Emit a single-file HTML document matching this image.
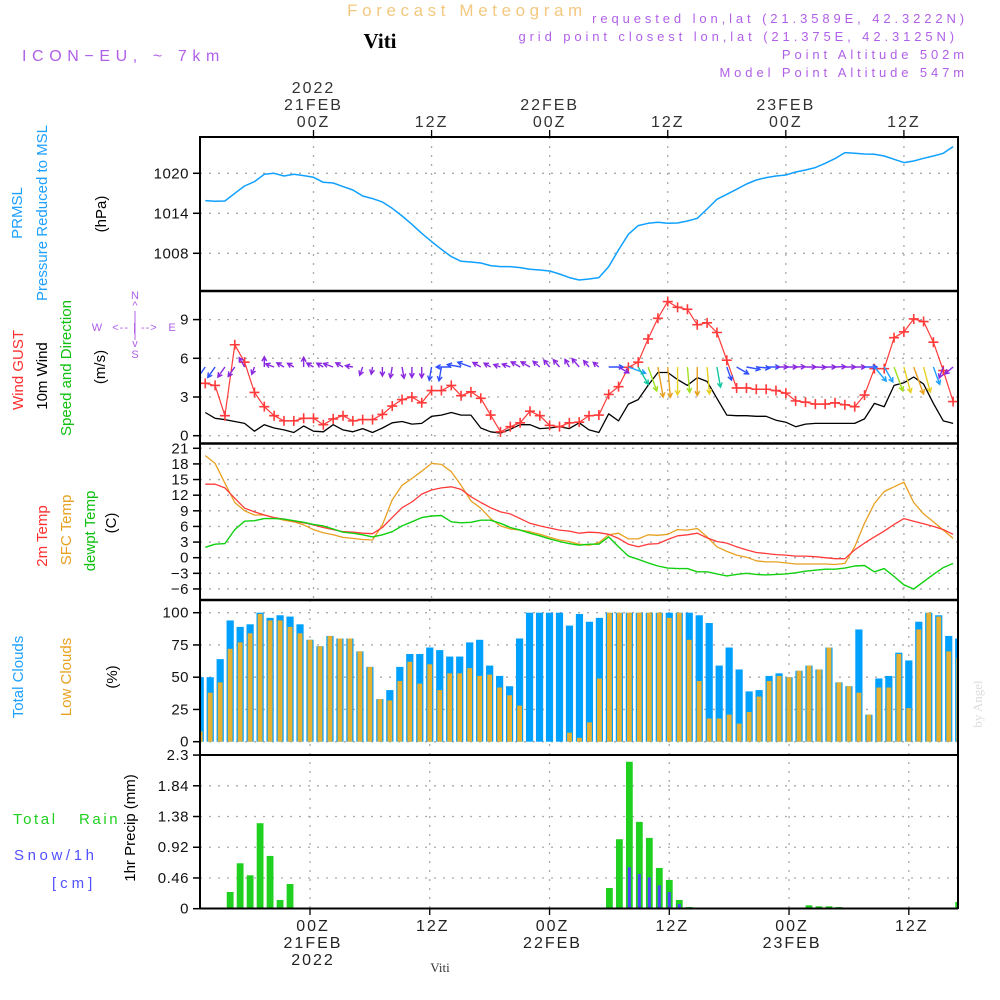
<!DOCTYPE html>
<html><head><meta charset="utf-8"><title>Forecast Meteogram - Viti</title>
<style>
html,body{margin:0;padding:0;background:#fff;}
svg{display:block;font-family:"Liberation Sans",sans-serif;}
</style></head>
<body>
<svg id="chart" width="1000" height="1000" viewBox="0 0 1000 1000" xmlns="http://www.w3.org/2000/svg">
<defs><clipPath id="plotclip"><rect x="201" y="130" width="757" height="790"/></clipPath></defs>
<g id="header">
<text x="467" y="16" text-anchor="middle" font-size="17" fill="#f3c880" letter-spacing="4.6">Forecast Meteogram</text>
<text x="380" y="48" text-anchor="middle" font-size="21" font-weight="bold" font-family="Liberation Serif,serif" fill="#000">Viti</text>
<text x="22" y="61" font-size="16" fill="#b060e8" letter-spacing="5.6">ICON−EU, ~ 7km</text>
<g font-size="13" fill="#b060e8" text-anchor="end" letter-spacing="3.9">
<text x="968" y="23">requested lon,lat (21.3589E, 42.3222N)</text>
<text x="958" y="41">grid point closest lon,lat (21.375E, 42.3125N)</text>
<text x="968" y="59">Point Altitude 502m</text>
<text x="968" y="77">Model Point Altitude 547m</text>
</g>
</g>
<g id="grid"></g>
<g id="marks" clip-path="url(#plotclip)"></g>
<g id="frames"></g>
<g id="axes"></g>
<g id="labels">
<g font-size="15">
<text transform="translate(22,213) rotate(-90)" text-anchor="middle" fill="#1ea0ff">PRMSL</text>
<text transform="translate(47,213) rotate(-90)" text-anchor="middle" fill="#1ea0ff">Pressure Reduced to MSL</text>
<text transform="translate(106,214) rotate(-90)" text-anchor="middle" fill="#000">(hPa)</text>
<text transform="translate(23,370) rotate(-90)" text-anchor="middle" fill="#ff3030">Wind GUST</text>
<text transform="translate(47,376) rotate(-90)" text-anchor="middle" fill="#000">10m Wind</text>
<text transform="translate(71,368) rotate(-90)" text-anchor="middle" fill="#10c010">Speed and Direction</text>
<text transform="translate(105,367) rotate(-90)" text-anchor="middle" fill="#000">(m/s)</text>
<text transform="translate(47,536) rotate(-90)" text-anchor="middle" fill="#ff3030">2m Temp</text>
<text transform="translate(71,530) rotate(-90)" text-anchor="middle" fill="#e8a020">SFC Temp</text>
<text transform="translate(95,531) rotate(-90)" text-anchor="middle" fill="#10c010">dewpt Temp</text>
<text transform="translate(116,523) rotate(-90)" text-anchor="middle" fill="#000">(C)</text>
<text transform="translate(23,677) rotate(-90)" text-anchor="middle" fill="#1ea0ff">Total Clouds</text>
<text transform="translate(71,677) rotate(-90)" text-anchor="middle" fill="#e8a020">Low Clouds</text>
<text transform="translate(117,677) rotate(-90)" text-anchor="middle" fill="#000">(%)</text>
<text transform="translate(135,828) rotate(-90)" text-anchor="middle" fill="#000">1hr Precip (mm)</text>
</g>
<g font-size="15" letter-spacing="2.6">
<text x="13" y="824" fill="#20d020">Total</text>
<text x="79" y="824" fill="#20d020">Rain</text>
<text x="14" y="860" fill="#5050ff" letter-spacing="3.6">Snow/1h</text>
<text x="52" y="888" fill="#5050ff" letter-spacing="4">[cm]</text>
</g>
<g font-size="11" fill="#b060e8">
<text x="135" y="299" text-anchor="middle">N</text>
<text x="135" y="309" text-anchor="middle">^</text>
<text x="97" y="331" text-anchor="middle">W</text>
<text x="135" y="331" text-anchor="middle" letter-spacing="1">&lt;-- | --&gt;</text>
<text x="172" y="331" text-anchor="middle">E</text>
<text x="135" y="347" text-anchor="middle">v</text>
<text x="135" y="358" text-anchor="middle">S</text>
<line x1="135" y1="311" x2="135" y2="340" stroke="#b060e8" stroke-width="1"/>
</g>
<text transform="translate(982,704) rotate(-90)" text-anchor="middle" font-size="13" font-family="Liberation Serif,serif" fill="#ddd">by Angel</text>
<text x="440" y="972" text-anchor="middle" font-size="13" font-family="Liberation Serif,serif" fill="#333">Viti</text>
</g>
</svg>
<script>
// hours relative to 00Z 21FEB, hourly from -11 to 65
const hours = [];
for (let h = -11; h <= 65; h++) hours.push(h);
const pressure = [1015.9,1015.8,1015.85,1017.0,1018.1,1018.75,1019.85,1020.0,1019.6,1019.85,1019.65,1019.4,1018.65,1018.55,1018.0,1017.5,1016.6,1016.2,1015.7,1014.75,1013.6,1012.35,1011.0,1009.75,1008.6,1007.5,1006.8,1006.7,1006.55,1006.15,1006.0,1006.0,1005.85,1005.6,1005.5,1005.35,1004.9,1004.35,1004.0,1004.15,1004.35,1006.0,1008.5,1010.85,1012.15,1012.5,1012.65,1012.5,1012.55,1012.85,1013.25,1014.65,1016.1,1016.85,1017.6,1018.4,1019.0,1019.35,1019.6,1019.75,1020.2,1020.5,1020.85,1021.5,1022.2,1023.1,1023.0,1022.9,1022.85,1022.6,1022.1,1021.6,1021.85,1022.25,1022.6,1023.0,1024.0];
const windGust = [4.06,3.9,1.55,7.05,5.7,3.35,2.25,1.55,1.15,1.15,1.35,1.35,0.85,1.3,1.55,1.15,1.25,1.25,1.65,2.3,2.8,3.0,2.55,3.5,3.5,3.9,3.1,3.4,2.9,1.6,0.3,0.7,1.0,1.9,1.55,0.8,0.7,1.0,1.05,1.55,1.6,3.2,3.8,5.3,5.7,7.5,9.1,10.4,9.95,9.8,8.6,8.75,8.0,5.85,3.7,3.7,3.6,3.6,3.5,3.3,2.7,2.6,2.45,2.45,2.55,2.4,2.25,3.15,5.2,5.2,7.6,8.05,9.05,8.85,7.25,5.05,2.65];
const wind10m = [1.8,1.35,1.25,1.1,0.95,0.35,0.85,0.6,0.45,0.25,0.75,0.35,0.3,0.85,0.45,0.3,0.55,0.25,0.6,1.0,1.1,0.9,0.95,1.5,1.6,1.8,1.6,1.6,0.6,0.3,0.2,0.5,0.85,0.85,0.55,0.6,0.7,0.55,1.0,0.45,0.25,1.7,1.15,2.45,2.8,3.9,4.9,4.9,4.35,3.9,4.5,4.2,2.9,1.6,1.55,1.55,1.5,1.5,1.2,1.05,0.7,0.9,0.95,0.95,0.95,0.95,0.95,1.3,2.5,2.25,3.9,4.1,4.55,4.0,2.5,1.15,0.95];
const windDir = [215,215,215,215,330,200,0,290,300,300,0,300,300,290,300,280,200,190,180,190,170,180,180,190,190,270,280,290,300,300,290,290,300,300,310,320,320,330,320,320,310,90,120,110,150,160,170,175,180,175,180,175,170,160,120,100,95,90,90,90,88,90,92,90,88,90,90,90,140,150,160,165,160,165,160,200,230];
const temp2m = [14.1,14.1,13.4,11.4,9.5,8.8,8.2,7.7,7.4,7.0,6.7,6.3,5.8,5.4,5.0,4.9,4.7,4.6,5.8,7.7,9.6,10.7,12.2,13.0,13.4,13.6,13.1,11.7,10.6,9.6,8.8,8.4,7.5,6.6,6.1,5.7,5.3,5.1,4.7,4.9,4.8,4.5,3.7,2.6,2.1,2.6,2.7,3.5,4.2,4.4,4.7,3.8,3.1,2.8,2.1,1.5,1.0,0.8,0.6,0.5,0.3,0.3,0.2,0.0,-0.2,-0.2,1.5,2.8,4.0,5.1,6.4,7.5,7.0,6.5,6.0,5.4,4.5];
const tempSfc = [19.6,18.1,14.3,10.6,9.0,8.2,8.2,7.7,7.2,6.9,6.3,5.4,4.8,4.4,3.9,3.7,3.5,3.4,6.3,11.1,13.9,15.2,16.6,18.1,17.9,16.5,13.9,10.9,9.5,7.5,6.1,5.5,5.3,5.0,4.5,3.9,3.4,3.1,2.6,2.4,2.9,4.4,4.7,3.6,3.6,4.4,4.3,4.5,5.4,5.3,5.6,4.0,2.1,1.2,0.5,0.1,-0.6,-0.8,-0.8,-1.0,-1.2,-1.2,-1.2,-1.2,-1.3,-1.1,2.1,6.6,10.4,12.7,13.6,14.5,10.6,8.4,6.9,5.3,3.7];
const dewpoint = [2.0,2.6,2.7,5.4,7.0,7.1,7.5,7.5,7.4,7.1,6.8,6.4,6.1,5.5,4.9,4.7,4.4,4.0,4.4,5.0,6.1,6.9,7.7,8.0,8.1,6.9,6.7,6.8,7.2,7.2,6.6,5.8,5.3,4.7,4.2,3.6,3.1,2.7,2.4,2.6,2.6,4.0,2.1,0.3,-0.3,-1.0,-1.6,-2.0,-2.1,-2.1,-2.7,-2.7,-3.1,-3.5,-3.2,-3.0,-3.2,-3.3,-3.2,-3.1,-2.9,-2.6,-2.4,-2.2,-2.2,-2.0,-1.6,-1.5,-2.7,-2.1,-3.6,-5.2,-6.0,-4.6,-3.2,-1.9,-1.1];
const totalClouds = [50,50,64,94,89,91,100,96,98,97,91,79,74,82,80,80,70,58,33,40,58,68,68,73,71,66,66,77,79,59,51,43,80,100,100,100,100,90,99,93,96,100,100,100,100,100,100,100,100,100,98,92,59,73,56,39,40,51,53,50,55,59,56,73,46,43,87,21,49,51,69,63,93,100,98,82,80];
const lowClouds = [8,38,46,72,77,84,99,94,94,89,84,79,74,82,80,80,70,58,33,32,47,62,45,60,40,53,53,57,51,52,42,36,28,0,0,0,0,7,3,15,49,100,100,100,100,100,100,96,100,79,47,18,18,21,14,23,35,47,51,50,55,59,56,73,46,43,38,21,42,42,68,26,87,100,97,70,65];
const rain = [0,0,0,0.25,0.68,0.5,1.28,0.79,0.13,0.37,0.01,0,0,0,0,0,0,0,0,0,0,0,0,0,0,0,0,0,0.01,0.01,0,0,0,0,0,0,0,0,0,0,0,0.31,1.04,2.2,1.3,1.06,0.61,0.43,0.13,0.025,0,0,0,0,0,0,0,0,0,0,0,0.05,0.035,0.035,0.025,0,0,0,0,0,0,0,0,0,0,0,0.1];
const snow = [0,0,0,0,0,0,0,0,0,0,0,0,0,0,0,0,0,0,0,0,0,0,0,0,0,0,0,0,0,0,0,0,0,0,0,0,0,0,0,0,0,0,0,0.62,0.52,0.47,0.35,0.25,0.07,0.01,0,0,0,0,0,0,0,0,0,0,0,0,0,0,0,0,0,0,0,0,0,0,0,0,0,0,0];
const pressTicks = [1020,1014,1008];
const windTicks = [9,6,3,0];
const tempTicks = [21,18,15,12,9,6,3,0,-3,-6];
const cloudTicks = [100,75,50,25,0];
const precipTicks = ['2.3','1.84','1.38','0.92','0.46','0'];
const gridHours = [0,12,24,36,48,60];
const topLabels = [['2022','21FEB','00Z'],['','','12Z'],['','22FEB','00Z'],['','','12Z'],['','23FEB','00Z'],['','','12Z']];
const bottomLabels = [['00Z','21FEB','2022'],['12Z','',''],['00Z','22FEB',''],['12Z','',''],['00Z','23FEB',''],['12Z','','']];

const NS = 'http://www.w3.org/2000/svg';
const L = 200, R = 958;
const xa = h => 313.5 + h * 9.84;   // top three panels
const xb = h => 310 + h * 9.98;     // clouds and precip panels
const yP = p => 173.3 - (p - 1020) * 6.667;
const yW = v => 435.7 - v * 12.9;
const yT = t => 557.7 - t * 5.21;
const yC = c => 741.7 - c * 1.29;
const yR = r => 908.7 - r * 66.8;

function el(tag, attrs, parent) {
  const e = document.createElementNS(NS, tag);
  for (const k in attrs) e.setAttribute(k, attrs[k]);
  parent.appendChild(e);
  return e;
}
const grid = document.getElementById('grid');
const marks = document.getElementById('marks');
const frames = document.getElementById('frames');
const axes = document.getElementById('axes');
const dot = {stroke:'#aaa','stroke-width':1.3,'stroke-dasharray':'2,7',fill:'none'};

function hgrid(vals, fy) {
  vals.forEach(v => {
    const y = fy(+v);
    const g = el('line', Object.assign({x1:L, x2:R, y1:y, y2:y}, dot), grid);
    
    
    const t = el('line', {x1:L-7, x2:L, y1:y, y2:y, stroke:'#000','stroke-width':1.5}, axes);
    
    
    const tx = el('text', {x:L-11, y:y+5, 'text-anchor':'end','font-size':15, fill:'#111','letter-spacing':0.5}, axes);
    tx.textContent = String(v).replace('-', '\u2212');
    
    
  });
}
function vgrid(fx, top, bot) {
  gridHours.forEach(h => {
    const g = el('line', Object.assign({x1:fx(h), x2:fx(h), y1:top, y2:bot}, dot), grid);
    
    
  });
}
vgrid(xa, 137, 600); vgrid(xb, 600, 908);
hgrid(pressTicks, yP); hgrid(windTicks, yW);
hgrid(tempTicks, yT); hgrid(cloudTicks, yC); hgrid(precipTicks, yR);

function line(vals, fx, fy, color, name, w) {
  const pts = vals.map((v, i) => fx(hours[i]).toFixed(1) + ',' + fy(v).toFixed(1)).join(' ');
  const p = el('polyline', {points:pts, fill:'none', stroke:color, 'stroke-width':w || 1.4, 'stroke-linejoin':'round'}, marks);
  
  
}
totalClouds.forEach((c, i) => {
  const x = xb(hours[i]);
  const b = el('rect', {x:x-3.6, y:yC(c), width:7.2, height:yC(0)-yC(c), fill:'#00a0ff'}, marks);
  
  
});
lowClouds.forEach((c, i) => {
  const x = xb(hours[i]);
  const b = el('rect', {x:x-2.4, y:yC(c), width:4.8, height:yC(0)-yC(c), fill:'#e8b030'}, marks);
  
  
});
rain.forEach((r, i) => {
  if (r <= 0) return;
  const x = xb(hours[i]);
  const b = el('rect', {x:x-3.4, y:yR(r), width:6.8, height:yR(0)-yR(r), fill:'#20d020'}, marks);
  
  
});
snow.forEach((s, i) => {
  if (s <= 0) return;
  const x = xb(hours[i]);
  const b = el('rect', {x:x-1.5, y:yR(s), width:3, height:yR(0)-yR(s), fill:'#4848ff'}, marks);
  
  
});
line(pressure, xa, yP, '#10a0ff', 'pressure-line', 1.5);
line(wind10m, xa, yW, '#000', 'wind-10m-line', 1.3);
line(windGust, xa, yW, '#ff3a3a', 'wind-gust-line', 1.2);
windGust.forEach((v, i) => {
  const x = xa(hours[i]), y = yW(v);
  const p = el('path', {d:`M${x-5},${y}H${x+5}M${x},${y-5}V${y+5}`, stroke:'#ff3a3a', 'stroke-width':1.6}, marks);
  
  
});
function windColor(s) {
  if (s < 1.3) return '#8a28e0';
  if (s < 2.0) return '#3050ff';
  if (s < 2.6) return '#1ea0ff';
  if (s < 3.2) return '#10c8a0';
  if (s < 3.95) return '#a0e020';
  if (s < 4.4) return '#e8d020';
  return '#e8a020';
}
wind10m.forEach((s, i) => {
  const x0 = xa(hours[i]), y0 = 367;
  const len = Math.min(31, 6 + 5 * s);
  const a = windDir[i] * Math.PI / 180;
  const dx = Math.sin(a), dy = -Math.cos(a);
  const x1 = x0 + dx * len, y1 = y0 + dy * len;
  const hl = 5, ang = 0.5;
  const bx = -dx, by = -dy;
  const h1x = x1 + hl * (bx * Math.cos(ang) - by * Math.sin(ang));
  const h1y = y1 + hl * (bx * Math.sin(ang) + by * Math.cos(ang));
  const h2x = x1 + hl * (bx * Math.cos(-ang) - by * Math.sin(-ang));
  const h2y = y1 + hl * (bx * Math.sin(-ang) + by * Math.cos(-ang));
  const p = el('path', {d:`M${x0},${y0}L${x1},${y1}M${h1x},${h1y}L${x1},${y1}L${h2x},${h2y}`, stroke:windColor(s), 'stroke-width':1.4, fill:'none'}, marks);
  
  
});
line(tempSfc, xa, yT, '#e8a020', 'sfc-temp-line', 1.3);
line(temp2m, xa, yT, '#ff3a3a', 'temp-2m-line', 1.3);
line(dewpoint, xa, yT, '#10d010', 'dewpoint-line', 1.4);

function fl(x1, y1, x2, y2, w, name) {
  const f = el('line', {x1, y1, x2, y2, stroke:'#000', 'stroke-width':w}, frames);
  
  
}
fl(L, 136, L, 909, 2, 'left-frame');
fl(R, 136, R, 909, 2, 'right-frame');
fl(L, 137, R, 137, 2, 'top-frame');
fl(L, 291, R, 291, 2.5, 'separator-pressure-wind');
fl(L, 443.5, R, 443.5, 2.5, 'separator-wind-temp');
fl(L, 600, R, 600, 2.5, 'separator-temp-clouds');
fl(L, 755, R, 755, 2, 'separator-clouds-precip');
fl(L, 908.5, R, 908.5, 2, 'bottom-frame');
gridHours.forEach((h, i) => {
  const x = xa(h);
  const t = el('line', {x1:x, x2:x, y1:130, y2:137, stroke:'#000','stroke-width':1.3}, axes);
  
  
  topLabels[i].forEach((s, j) => {
    if (!s) return;
    const tx = el('text', {x:x, y:93 + j*17, 'text-anchor':'middle', 'font-size':16, fill:'#333', 'letter-spacing':2}, axes);
    tx.textContent = s;
    
    
  });
  const xb2 = xb(h);
  const t2 = el('line', {x1:xb2, x2:xb2, y1:908, y2:915, stroke:'#000','stroke-width':1.3}, axes);
  
  
  bottomLabels[i].forEach((s, j) => {
    if (!s) return;
    const tx = el('text', {x:xb2 + 3, y:931 + j*17, 'text-anchor':'middle', 'font-size':16, fill:'#222', 'letter-spacing':2}, axes);
    tx.textContent = s;
    
    
  });
});
</script>
</body></html>
